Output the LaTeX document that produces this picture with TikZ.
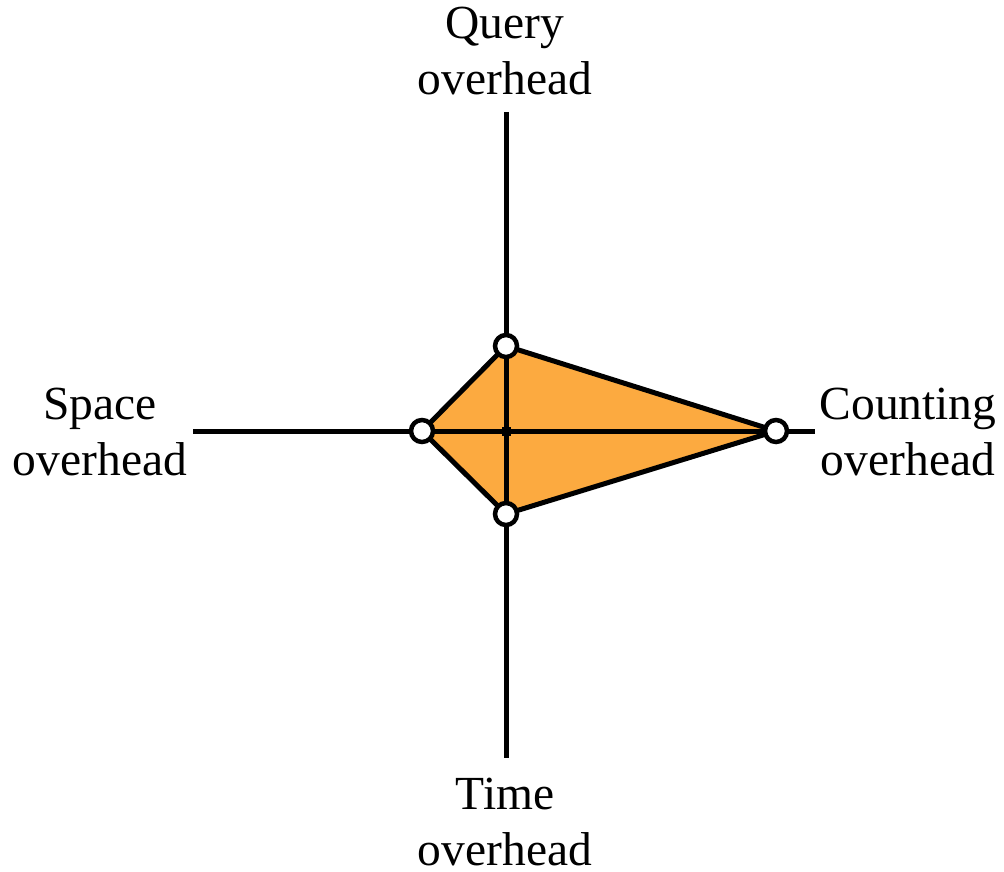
\documentclass[tikz,border=0pt]{standalone}
\usepackage{fontspec}
\setmainfont{Liberation Serif}
\definecolor{kiteorange}{RGB}{252,170,64}
\begin{document}
\begin{tikzpicture}[x=1pt,y=-1pt,
  axis/.style={line width=5pt},
  kite/.style={line width=5pt, line join=round},
  vertex/.style={circle, draw, line width=4.5pt, fill=white, minimum size=22pt, inner sep=0pt},
  lbl/.style={align=center, font=\fontsize{47.5}{56}\selectfont, inner sep=0pt}]
\useasboundingbox (0,0) rectangle (1004,872);
% axis ends and the origin
\coordinate (O) at (506,431);
\coordinate (qEnd) at (506,112);
\coordinate (tEnd) at (506,758);
\coordinate (sEnd) at (193,431);
\coordinate (cEnd) at (815,431);
% polygon corners
\coordinate (q) at (506,346);
\coordinate (s) at (422,431);
\coordinate (t) at (506,514);
\coordinate (c) at (776,431);
% filled area
\fill[kiteorange] (q) -- (c) -- (t) -- (s) -- cycle;
% axes
\draw[axis] (qEnd) -- (tEnd);
\draw[axis] (sEnd) -- (cEnd);
\fill (O) ++(-4.5,-4.5) rectangle ++(9,9);
% outline
\draw[kite] (q) -- (c) -- (t) -- (s) -- cycle;
% markers
\node[vertex] (nq) at (q) {};
\node[vertex] (ns) at (s) {};
\node[vertex] (nt) at (t) {};
\node[vertex] (nc) at (c) {};
% labels (anchored at the baseline of the last line)
\node[lbl, anchor=base] (lq) at (505,95) {Query\\overhead};
\node[lbl, anchor=base] (ls) at (100,475) {Space\\overhead};
\node[lbl, anchor=base] (lc) at (908,475) {Counting\\overhead};
\node[lbl, anchor=base] (lt) at (505,865) {Time\\overhead};
\end{tikzpicture}
\end{document}
